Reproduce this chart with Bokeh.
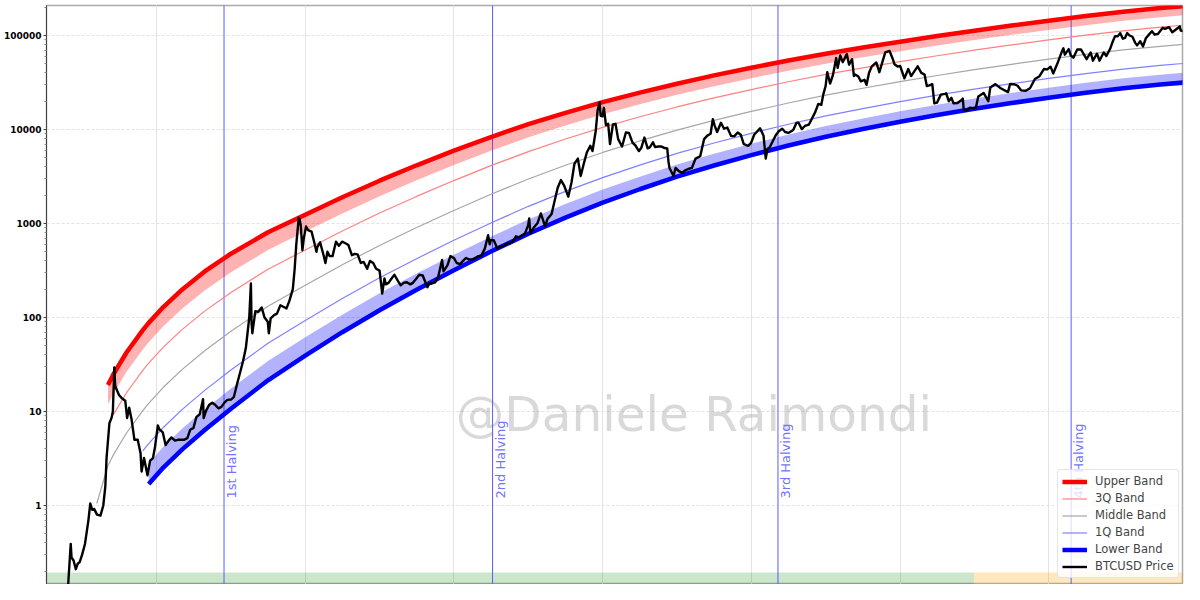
import numpy as np
import pandas as pd
from bokeh.plotting import figure
from bokeh.models import (Range1d, FixedTicker, CustomJSTickFormatter, Label, Legend,
                          LegendItem, Grid, ColumnDataSource)
from bokeh.embed import file_html
from bokeh.resources import INLINE

nan = None

# ---------------- data ----------------
BAND_DATES = ["2011-03-14", "2011-05-08", "2011-06-02", "2011-08-07", "2011-10-26", "2011-11-24",
              "2012-02-05", "2012-05-07", "2012-08-25", "2013-01-01", "2013-07-02", "2014-01-01",
              "2014-07-02", "2015-01-01", "2015-07-02", "2016-01-01", "2016-07-01", "2017-01-01",
              "2017-07-02", "2018-01-01", "2018-07-02", "2019-01-01", "2019-07-02", "2020-01-01",
              "2020-07-01", "2021-01-01", "2021-07-02", "2022-01-01", "2022-07-02", "2023-01-01",
              "2023-07-02", "2024-01-01", "2024-07-01", "2025-01-01", "2025-07-02", "2025-12-13"]
UPPER_BAND = [nan, 19.14, 24.51, 42.43, 73.45, 87.62, 129.9, 199.1, 308.7, 477.2, 806.1, 1241,
              1905, 2853, 4161, 5950, 8312, 11390, 15050, 19520, 24660, 30710, 37630, 45440,
              54270, 64030, 74450, 85910, 98660, 112500, 127600, 143700, 161000, 179100, 195700, 210100]
UPPER_ZONE = [nan, 11.93, 15.28, 26.44, 45.78, 54.60, 81.10, 124.3, 193.7, 302.6, 521.7, 819.7,
              1281, 1950, 2886, 4187, 5936, 8253, 11060, 14530, 18570, 23360, 28880, 35140,
              42260, 50170, 58600, 67900, 78240, 89430, 101600, 114600, 128500, 143100, 156300, 167800]
Q3_BAND = [nan, nan, 9.15, 15.83, 27.40, 32.69, 48.68, 74.71, 116.9, 184.7, 325.7, 523.1,
           833.2, 1291, 1941, 2862, 4122, 5823, 7924, 10550, 13650, 17370, 21670, 26590,
           32230, 38520, 45220, 52640, 60860, 69760, 79380, 89670, 100700, 112100, 122500, 131500]
MIDDLE_BAND = [1.05, 2.665, 3.412, 5.905, 10.22, 12.20, 18.20, 28.05, 44.29, 71.49, 131.6, 220.6,
               364.5, 584.1, 905.6, 1377, 2045, 2978, 4171, 5700, 7554, 9830, 12480, 15560,
               19140, 23170, 27470, 32250, 37540, 43270, 49390, 55960, 62940, 70200, 76660, 82310]
Q1_BAND = [nan, nan, nan, nan, 3.814, 4.550, 6.808, 10.53, 16.78, 27.67, 53.15, 93.02,
           159.5, 264.3, 422.5, 662.3, 1014, 1523, 2195, 3080, 4181, 5562, 7189, 9107,
           11370, 13940, 16690, 19760, 23160, 26840, 30730, 34920, 39350, 43940, 47990, 51520]
LOWER_ZONE = [nan, nan, nan, nan, nan, 2.832, 4.250, 6.578, 10.53, 17.54, 34.40, 61.46,
              107.2, 180.6, 293.0, 466.1, 724.4, 1104, 1613, 2293, 3148, 4232, 5516, 7041,
              8849, 10920, 13130, 15620, 18360, 21340, 24470, 27850, 31410, 35090, 38320, 41150]
LOWER_BAND = [nan, nan, nan, nan, nan, 1.697, 2.549, 3.953, 6.356, 10.71, 21.47, 39.23,
              69.76, 119.6, 197.1, 318.6, 503.0, 778.9, 1156, 1665, 2314, 3148, 4140, 5329,
              6749, 8383, 10140, 12110, 14280, 16650, 19120, 21790, 24600, 27500, 30040, 32250]

PRICE_DATES = [
    "2010-07-17", "2010-07-25", "2010-08-01", "2010-08-15", "2010-09-01", "2010-09-15", "2010-10-01",
    "2010-10-15", "2010-10-25", "2010-11-06", "2010-11-10", "2010-11-20", "2010-12-01", "2010-12-10",
    "2010-12-20",
    "2011-01-01", "2011-01-15", "2011-02-01", "2011-02-10", "2011-02-20", "2011-03-01", "2011-03-15",
    "2011-04-01", "2011-04-15", "2011-04-25", "2011-05-01", "2011-05-15", "2011-05-25", "2011-06-01",
    "2011-06-08", "2011-06-12", "2011-06-20", "2011-07-01", "2011-07-15", "2011-08-01", "2011-08-10",
    "2011-08-20", "2011-09-01", "2011-09-15", "2011-10-01", "2011-10-15", "2011-10-20", "2011-11-01",
    "2011-11-18", "2011-12-01", "2011-12-15", "2011-12-25",
    "2012-01-08", "2012-01-15", "2012-02-01", "2012-02-15", "2012-03-01", "2012-03-15", "2012-04-01",
    "2012-04-15", "2012-05-01", "2012-05-15", "2012-06-01", "2012-06-15", "2012-07-01", "2012-07-15",
    "2012-08-01", "2012-08-17", "2012-08-20", "2012-09-01", "2012-09-15", "2012-10-01", "2012-10-15",
    "2012-11-01", "2012-11-15", "2012-12-01", "2012-12-15",
    "2013-01-01", "2013-01-15", "2013-02-01", "2013-02-15", "2013-03-01", "2013-03-15", "2013-04-01",
    "2013-04-09", "2013-04-12", "2013-04-16", "2013-05-01", "2013-05-15", "2013-06-01", "2013-06-15",
    "2013-07-01", "2013-07-06", "2013-07-15", "2013-08-01", "2013-08-15", "2013-09-01", "2013-09-15",
    "2013-10-01", "2013-10-15", "2013-11-01", "2013-11-10", "2013-11-18", "2013-11-30", "2013-12-05",
    "2013-12-10", "2013-12-18", "2013-12-25",
    "2014-01-05", "2014-01-15", "2014-02-01", "2014-02-15", "2014-02-25", "2014-03-01", "2014-03-15",
    "2014-04-01", "2014-04-10", "2014-04-20", "2014-05-01", "2014-05-15", "2014-06-01", "2014-06-15",
    "2014-07-01", "2014-07-15", "2014-08-01", "2014-08-18", "2014-09-01", "2014-09-15", "2014-10-01",
    "2014-10-15", "2014-11-01", "2014-11-15", "2014-12-01", "2014-12-15",
    "2015-01-01", "2015-01-14", "2015-01-25", "2015-02-01", "2015-02-15", "2015-03-01", "2015-03-15",
    "2015-04-01", "2015-04-15", "2015-05-01", "2015-05-15", "2015-06-01", "2015-06-15", "2015-07-01",
    "2015-07-15", "2015-08-01", "2015-08-24", "2015-09-01", "2015-09-15", "2015-10-01", "2015-10-15",
    "2015-11-04", "2015-11-11", "2015-12-01", "2015-12-15",
    "2016-01-01", "2016-01-15", "2016-02-01", "2016-02-15", "2016-03-01", "2016-03-15", "2016-04-01",
    "2016-04-15", "2016-05-01", "2016-05-15", "2016-06-01", "2016-06-17", "2016-06-25", "2016-07-01",
    "2016-07-15", "2016-08-02", "2016-08-15", "2016-09-01", "2016-09-15", "2016-10-01", "2016-10-15",
    "2016-11-01", "2016-11-15", "2016-12-01", "2016-12-15", "2016-12-31",
    "2017-01-05", "2017-01-11", "2017-01-25", "2017-02-15", "2017-03-03", "2017-03-24", "2017-04-05",
    "2017-04-25", "2017-05-10", "2017-05-25", "2017-06-10", "2017-06-25", "2017-07-16", "2017-08-01",
    "2017-08-15", "2017-09-01", "2017-09-15", "2017-10-01", "2017-10-15", "2017-11-01", "2017-11-12",
    "2017-11-28", "2017-12-07", "2017-12-17", "2017-12-22", "2017-12-31",
    "2018-01-07", "2018-01-17", "2018-01-28", "2018-02-06", "2018-02-20", "2018-03-05", "2018-03-18",
    "2018-04-06", "2018-04-25", "2018-05-10", "2018-05-28", "2018-06-10", "2018-06-28", "2018-07-10",
    "2018-07-25", "2018-08-10", "2018-08-20", "2018-09-05", "2018-09-15", "2018-10-01", "2018-10-15",
    "2018-11-01", "2018-11-14", "2018-11-20", "2018-11-25", "2018-12-15", "2018-12-25",
    "2019-01-10", "2019-01-28", "2019-02-08", "2019-02-25", "2019-03-15", "2019-04-02", "2019-04-25",
    "2019-05-14", "2019-05-30", "2019-06-15", "2019-06-26", "2019-07-05", "2019-07-17", "2019-08-05",
    "2019-08-20", "2019-09-05", "2019-09-24", "2019-10-10", "2019-10-26", "2019-11-10", "2019-11-25",
    "2019-12-17", "2019-12-31",
    "2020-01-15", "2020-02-13", "2020-03-01", "2020-03-12", "2020-03-20", "2020-04-01", "2020-04-30",
    "2020-05-15", "2020-06-01", "2020-06-15", "2020-07-01", "2020-07-25", "2020-08-10", "2020-08-20",
    "2020-09-05", "2020-09-20", "2020-10-10", "2020-10-25", "2020-11-10", "2020-11-25", "2020-12-10",
    "2020-12-20", "2020-12-31",
    "2021-01-08", "2021-01-22", "2021-02-05", "2021-02-21", "2021-02-28", "2021-03-13", "2021-03-25",
    "2021-04-14", "2021-04-25", "2021-05-10", "2021-05-19", "2021-05-25", "2021-06-10", "2021-06-22",
    "2021-07-10", "2021-07-20", "2021-08-01", "2021-08-15", "2021-09-06", "2021-09-21", "2021-10-05",
    "2021-10-20", "2021-11-10", "2021-11-25", "2021-12-04", "2021-12-20",
    "2022-01-01", "2022-01-22", "2022-02-10", "2022-02-24", "2022-03-28", "2022-04-15", "2022-05-01",
    "2022-05-12", "2022-05-25", "2022-06-08", "2022-06-18", "2022-07-01", "2022-07-20", "2022-08-10",
    "2022-08-15", "2022-08-28", "2022-09-10", "2022-09-20", "2022-10-10", "2022-10-25", "2022-11-05",
    "2022-11-09", "2022-11-21", "2022-12-10", "2022-12-25",
    "2023-01-08", "2023-01-20", "2023-02-15", "2023-03-10", "2023-03-20", "2023-04-14", "2023-05-10",
    "2023-06-15", "2023-06-25", "2023-07-15", "2023-08-01", "2023-08-18", "2023-09-10", "2023-10-01",
    "2023-10-25", "2023-11-15", "2023-12-08", "2023-12-25",
    "2024-01-10", "2024-01-23", "2024-02-15", "2024-03-05", "2024-03-13", "2024-03-20", "2024-04-08",
    "2024-04-18", "2024-05-01", "2024-05-20", "2024-06-07", "2024-06-25", "2024-07-05", "2024-07-25",
    "2024-08-05", "2024-08-25", "2024-09-06", "2024-09-27", "2024-10-10", "2024-10-29", "2024-11-12",
    "2024-11-22", "2024-12-05", "2024-12-17", "2024-12-30",
    "2025-01-10", "2025-01-20", "2025-02-01", "2025-02-15", "2025-02-28", "2025-03-10", "2025-03-25",
    "2025-04-08", "2025-04-22", "2025-05-10", "2025-05-22", "2025-06-05", "2025-06-20", "2025-07-14",
    "2025-07-25", "2025-08-14", "2025-08-30", "2025-09-15", "2025-10-06", "2025-10-10", "2025-10-25",
    "2025-11-05", "2025-11-15", "2025-11-21"]
PRICE_VALUES = [
    0.05, 0.055, 0.063, 0.068, 0.062, 0.062, 0.062, 0.10, 0.15, 0.39, 0.28, 0.26, 0.21, 0.24, 0.25,
    0.30, 0.39, 0.70, 1.05, 0.90, 0.92, 0.80, 0.78, 1.0, 1.6, 3.2, 7.5, 8.5, 10, 29.5, 19, 17, 15,
    13.8, 13, 8.5, 11, 8.2, 5.0, 5.0, 3.6, 2.3, 3.2, 2.1, 3.0, 3.2, 4.2,
    7.1, 6.5, 6.0, 4.4, 4.9, 5.3, 4.9, 5.0, 5.0, 5.0, 5.2, 6.4, 6.7, 8.7, 9.4, 13.5, 8.5, 10.2, 11.7,
    12.4, 11.8, 10.8, 11.2, 12.5, 13.3,
    13.4, 14.2, 20, 26, 34, 47, 100, 230, 90, 68, 117, 115, 128, 100, 90, 68, 98, 106, 110, 135,
    130, 125, 150, 200, 330, 600, 1150, 1100, 950, 520, 700,
    930, 850, 820, 620, 500, 560, 630, 460, 380, 500, 450, 450, 640, 580, 640, 620, 590, 460, 475,
    470, 380, 390, 330, 400, 380, 330,
    315, 180, 260, 225, 235, 260, 285, 245, 220, 235, 237, 225, 235, 260, 285, 280, 210, 230, 230,
    237, 265, 410, 310, 360, 450,
    430, 380, 370, 400, 430, 415, 415, 430, 450, 455, 540, 750, 600, 670, 665, 540, 570, 575, 610,
    615, 640, 730, 710, 750, 780, 960,
    1130, 780, 890, 1010, 1280, 940, 1120, 1260, 1750, 2400, 2900, 2550, 1930, 2750, 4300, 4900,
    3200, 4400, 5700, 6700, 5900, 9700, 16000, 19500, 14000, 13800,
    17000, 11100, 11500, 7000, 11300, 11500, 7900, 6600, 9300, 9200, 7200, 6800, 5900, 6400, 8200,
    6300, 6450, 7300, 6500, 6600, 6600, 6350, 6300, 4600, 3900, 3200, 3900,
    3600, 3450, 3650, 3800, 3900, 4900, 5200, 7900, 8600, 9000, 12900, 11000, 9400, 11800, 10200,
    10500, 8500, 8500, 9300, 8800, 7000, 6700, 7200,
    8800, 10300, 8600, 4900, 6200, 6500, 8700, 9600, 10200, 9400, 9200, 9900, 11800, 11800, 10100,
    10900, 11300, 13100, 15300, 18700, 18300, 23800, 29000,
    40800, 30800, 38000, 57500, 45200, 61200, 52000, 63500, 49000, 56000, 37000, 38500, 36700, 32500,
    33800, 29800, 40000, 47000, 51700, 40700, 51500, 66000, 68500, 57000, 49500, 46700,
    47500, 35000, 44000, 37000, 47000, 40000, 38500, 29000, 29500, 30300, 19000, 19300, 23500, 23900,
    24300, 20000, 21700, 19000, 19100, 20200, 21300, 16500, 15800, 17100, 16800,
    17000, 22500, 24500, 20000, 28000, 30400, 27500, 25000, 30500, 30300, 29200, 26100, 25800, 27500,
    34500, 36600, 44000, 43600,
    46600, 39500, 52000, 67000, 73000, 62500, 71600, 61500, 58000, 71000, 71000, 61000, 56000, 66000,
    54000, 64000, 53900, 66000, 60500, 72500, 88000, 98500, 98000, 106000, 92500,
    94500, 106000, 100000, 97000, 84000, 78500, 87000, 76500, 93500, 104000, 111000, 102000, 104000,
    121000, 117500, 122500, 108000, 115000, 124500, 113000, 111000, 101500, 94500, 84500]

HALVING_DATES = ["2012-11-28", "2016-07-09", "2020-05-11", "2024-04-20"]
HALVING_LABELS = ["1st Halving", "2nd Halving", "3rd Halving", "4th Halving"]
PHASE_STARTS = ["2010-01-01", "2022-12-29"]
PHASE_ENDS = ["2022-12-29", "2026-06-01"]
PHASE_COLORS = ["green", "orange"]
PHASE_ALPHAS = [0.2, 0.25]
Y_TICKS = [0.1, 1, 10, 100, 1000, 10000, 100000]
GRID_YEARS = ["2010-01-01", "2012-01-01", "2014-01-01", "2016-01-01", "2018-01-01", "2020-01-01",
              "2022-01-01", "2024-01-01", "2026-01-01"]
WATERMARK = "@Daniele Raimondi"


# ---------------- helpers ----------------
def ms(d):
    return pd.Timestamp(d).value / 1e6


def series(dates, vals):
    x = np.array([ms(d) for d in dates])
    y = np.array([np.nan if v is None else v for v in vals], dtype=float)
    keep = ~np.isnan(y)
    return x[keep], y[keep]


X_START, X_END = ms("2010-07-10"), ms("2025-10-19")
Y_START, Y_END = 0.1444, 208500
STRIP_TOP = 0.1937
LABEL_Y = 1.187

p = figure(width=1184, height=584, x_axis_type="datetime", y_axis_type="log",
           x_axis_location=None,
           x_range=Range1d(X_START, X_END), y_range=Range1d(Y_START, Y_END),
           output_backend="svg", toolbar_location=None,
           min_border_left=38, min_border_right=2, min_border_top=5, min_border_bottom=0)
p.background_fill_color = "white"
p.border_fill_color = "white"
p.outline_line_color = "#aaaaaa"
p.outline_line_width = 1.5

minor = [m * 10.0 ** e for e in range(-1, 6) for m in range(2, 10)]
p.yaxis.ticker = FixedTicker(ticks=Y_TICKS, minor_ticks=minor)
p.yaxis.formatter = CustomJSTickFormatter(code="return tick >= 1 ? tick.toFixed(0) : String(tick);")
p.yaxis.major_label_text_font = "DejaVu Sans"
p.yaxis.major_label_text_font_style = "bold"
p.yaxis.major_label_text_font_size = "9px"
p.yaxis.major_label_text_color = "black"
p.yaxis.major_label_standoff = 2
p.yaxis.major_tick_out = 3
p.yaxis.major_tick_in = 0
p.yaxis.minor_tick_out = 2
p.yaxis.minor_tick_in = 0
p.yaxis.axis_line_color = "#444444"
p.yaxis.major_tick_line_color = "#444444"
p.yaxis.minor_tick_line_color = "#888888"
p.ygrid.ticker = FixedTicker(ticks=Y_TICKS)
p.ygrid.grid_line_color = "#e3e3e3"
p.ygrid.grid_line_dash = "3 2"
p.add_layout(Grid(dimension=0, ticker=FixedTicker(ticks=[ms(d) for d in GRID_YEARS]),
                  grid_line_color="#e3e3e3", grid_line_width=1))

# phase strips at the bottom
p.quad(left=[ms(s) for s in PHASE_STARTS], right=[ms(e) for e in PHASE_ENDS],
       bottom=[Y_START * 0.5] * 2, top=[STRIP_TOP] * 2,
       fill_color=PHASE_COLORS, fill_alpha=PHASE_ALPHAS, line_alpha=0)

# watermark
p.add_layout(Label(x=ms("2019-03-25"), y=9.52, text=WATERMARK, text_font="DejaVu Sans",
                   text_font_size="48.5px", text_color="gray", text_alpha=0.3,
                   text_align="center", text_baseline="alphabetic", level="underlay"))

# halvings: vertical lines + rotated labels
hx = [ms(d) for d in HALVING_DATES]
hsrc = ColumnDataSource(dict(xs=[[h, h] for h in hx],
                             ys=[[Y_START * 0.5, Y_END * 2]] * len(hx)))
p.multi_line(xs="xs", ys="ys", source=hsrc, line_color="#5c5cff", line_width=1)
for h, lab in zip(hx, HALVING_LABELS):
    p.add_layout(Label(x=h, y=LABEL_Y, text=lab, angle=np.pi / 2, x_offset=0,
                       text_align="left", text_baseline="top", text_font="DejaVu Sans",
                       text_font_size="13px", text_color="#7373ff", level="glyph"))

# shaded zones
ux, uy = series(BAND_DATES, UPPER_BAND)
_, uzy = series(BAND_DATES, UPPER_ZONE)
p.varea(x=ux, y1=uzy, y2=uy, fill_color="red", fill_alpha=0.3)
lx, ly = series(BAND_DATES, LOWER_BAND)
_, lzy = series(BAND_DATES, LOWER_ZONE)
p.varea(x=lx, y1=ly, y2=lzy, fill_color="blue", fill_alpha=0.3)

# bands
r_up = p.line(ux, uy, line_color="red", line_width=4.5)
qx, qy = series(BAND_DATES, Q3_BAND)
r_q3 = p.line(qx, qy, line_color="#ff8080", line_width=1.2)
mx, my = series(BAND_DATES, MIDDLE_BAND)
r_mid = p.line(mx, my, line_color="#a6a6a6", line_width=1.2)
q1x, q1y = series(BAND_DATES, Q1_BAND)
r_q1 = p.line(q1x, q1y, line_color="#8080ff", line_width=1.2)
r_lo = p.line(lx, ly, line_color="blue", line_width=4.5)

px_, py_ = series(PRICE_DATES, PRICE_VALUES)
r_px = p.line(px_, py_, line_color="black", line_width=2.4, line_join="round")

legend = Legend(items=[
    LegendItem(label="Upper Band", renderers=[r_up]),
    LegendItem(label="3Q Band", renderers=[r_q3]),
    LegendItem(label="Middle Band", renderers=[r_mid]),
    LegendItem(label="1Q Band", renderers=[r_q1]),
    LegendItem(label="Lower Band", renderers=[r_lo]),
    LegendItem(label="BTCUSD Price", renderers=[r_px]),
], location=(1011, 6))
legend.label_text_font = "DejaVu Sans"
legend.label_text_font_size = "11.5px"
legend.label_standoff = 8
legend.glyph_width = 25
legend.glyph_height = 13
legend.label_height = 13
legend.spacing = 3
legend.padding = 4
legend.margin = 0
legend.border_line_color = "#cccccc"
legend.border_line_width = 1
legend.border_radius = 3
legend.background_fill_color = "white"
legend.background_fill_alpha = 0.8
p.add_layout(legend)

open("out.html", "w").write(file_html(p, INLINE))
